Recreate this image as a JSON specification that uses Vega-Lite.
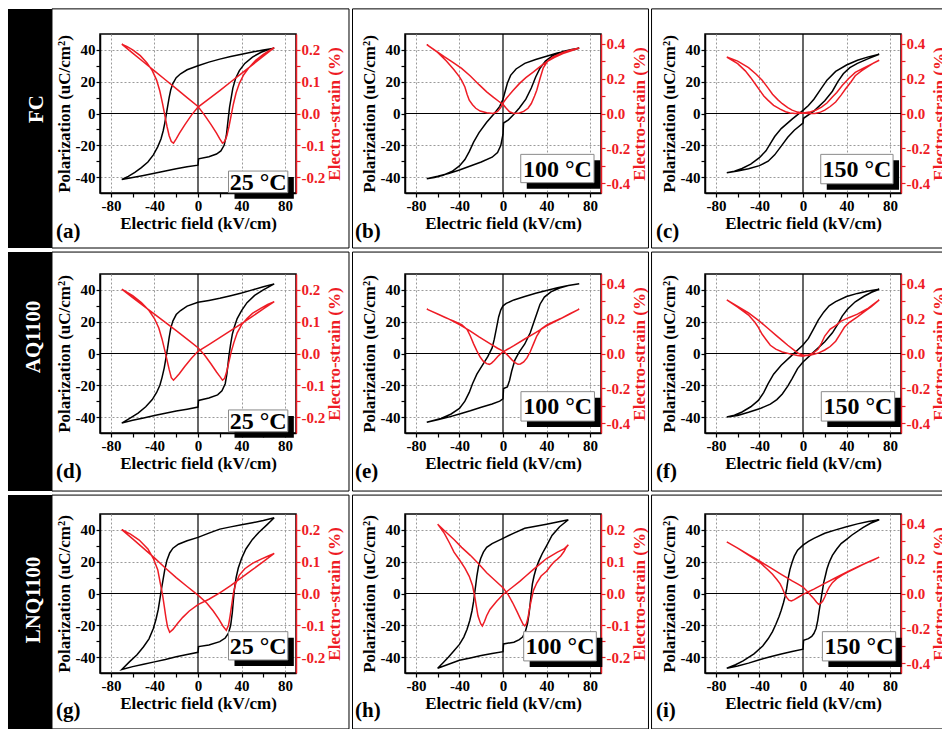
{
 "$schema": "https://vega.github.io/schema/vega-lite/v6.json",
 "padding": {"left": 7, "top": 7, "right": 0, "bottom": 0},
 "background": "white",
 "datasets": {
  "pa": [{"E":70,"P":41},{"E":60,"P":40},{"E":50,"P":38.7},{"E":40,"P":37.3},{"E":30,"P":35.8},{"E":20,"P":34.2},{"E":10,"P":32.3},{"E":0,"P":30},{"E":-10,"P":27.5},{"E":-16,"P":25},{"E":-20,"P":22.5},{"E":-23,"P":19},{"E":-25,"P":15},{"E":-26.5,"P":10},{"E":-28,"P":4},{"E":-29,"P":0},{"E":-30.5,"P":-6},{"E":-32,"P":-11},{"E":-34,"P":-16},{"E":-37,"P":-21},{"E":-41,"P":-26},{"E":-46,"P":-30.5},{"E":-52,"P":-34},{"E":-58,"P":-37},{"E":-64,"P":-39.5},{"E":-70,"P":-41.5},{"E":-60,"P":-40.3},{"E":-50,"P":-39},{"E":-40,"P":-37.6},{"E":-30,"P":-36.2},{"E":-20,"P":-34.8},{"E":-10,"P":-33.5},{"E":0,"P":-32.5},{"E":0.5,"P":-28.5},{"E":10,"P":-27.2},{"E":17,"P":-25.5},{"E":21,"P":-23.5},{"E":24,"P":-20},{"E":26,"P":-14},{"E":27,"P":-8},{"E":28,"P":-2},{"E":29,"P":4},{"E":30.5,"P":10},{"E":32,"P":16},{"E":34.5,"P":22},{"E":38,"P":27},{"E":43,"P":31.5},{"E":50,"P":35.5},{"E":58,"P":38.5},{"E":64,"P":40},{"E":70,"P":41}],
  "sa": [{"E":-70,"S":0.218},{"E":-60,"S":0.19},{"E":-50,"S":0.162},{"E":-40,"S":0.134},{"E":-30,"S":0.106},{"E":-20,"S":0.078},{"E":-10,"S":0.05},{"E":0,"S":0.022},{"E":6,"S":-0.005},{"E":12,"S":-0.035},{"E":17,"S":-0.062},{"E":20,"S":-0.08},{"E":22.5,"S":-0.093},{"E":24.5,"S":-0.088},{"E":26.5,"S":-0.07},{"E":28.5,"S":-0.04},{"E":30.5,"S":-0.005},{"E":32.5,"S":0.03},{"E":35,"S":0.065},{"E":38,"S":0.095},{"E":42,"S":0.122},{"E":47,"S":0.145},{"E":53,"S":0.167},{"E":60,"S":0.186},{"E":66,"S":0.199},{"E":70,"S":0.207},{"E":60,"S":0.18},{"E":50,"S":0.153},{"E":40,"S":0.126},{"E":30,"S":0.099},{"E":20,"S":0.072},{"E":10,"S":0.046},{"E":0,"S":0.02},{"E":-6,"S":-0.005},{"E":-12,"S":-0.035},{"E":-17,"S":-0.062},{"E":-20,"S":-0.08},{"E":-22.5,"S":-0.093},{"E":-24.5,"S":-0.088},{"E":-26.5,"S":-0.07},{"E":-28.5,"S":-0.04},{"E":-30.5,"S":-0.005},{"E":-32.5,"S":0.03},{"E":-35,"S":0.07},{"E":-38,"S":0.105},{"E":-42,"S":0.135},{"E":-47,"S":0.16},{"E":-53,"S":0.182},{"E":-60,"S":0.2},{"E":-65,"S":0.21},{"E":-70,"S":0.218}],
  "pb": [{"E":70,"P":41},{"E":60,"P":39.5},{"E":50,"P":38},{"E":40,"P":36},{"E":30,"P":34},{"E":20,"P":31.5},{"E":12,"P":28},{"E":7,"P":24},{"E":4,"P":19},{"E":2,"P":14},{"E":0,"P":9},{"E":-3,"P":4.5},{"E":-8,"P":0},{"E":-15,"P":-5.5},{"E":-22,"P":-12},{"E":-27,"P":-18},{"E":-31,"P":-24},{"E":-35,"P":-29},{"E":-40,"P":-33},{"E":-47,"P":-36.5},{"E":-55,"P":-38.8},{"E":-63,"P":-40.2},{"E":-70,"P":-41},{"E":-60,"P":-39.5},{"E":-50,"P":-37.8},{"E":-40,"P":-35.5},{"E":-30,"P":-33},{"E":-20,"P":-30.5},{"E":-10,"P":-27.5},{"E":-5,"P":-24.5},{"E":-2,"P":-20},{"E":0,"P":-13},{"E":0.5,"P":-6},{"E":5,"P":-4},{"E":10,"P":-0.5},{"E":15,"P":3.5},{"E":21,"P":9},{"E":26,"P":16},{"E":30,"P":23},{"E":34,"P":28.5},{"E":39,"P":33},{"E":46,"P":36.5},{"E":55,"P":39},{"E":63,"P":40.3},{"E":70,"P":41}],
  "sb": [{"E":-70,"S":0.394},{"E":-62,"S":0.36},{"E":-54,"S":0.325},{"E":-46,"S":0.293},{"E":-38,"S":0.258},{"E":-30,"S":0.215},{"E":-22,"S":0.165},{"E":-15,"S":0.124},{"E":-9,"S":0.094},{"E":-4,"S":0.07},{"E":0,"S":0.052},{"E":3,"S":0.03},{"E":6,"S":0.01},{"E":10,"S":0.0},{"E":15,"S":0.003},{"E":19,"S":0.012},{"E":23,"S":0.03},{"E":26,"S":0.057},{"E":29,"S":0.1},{"E":31,"S":0.133},{"E":34,"S":0.2},{"E":37,"S":0.262},{"E":41,"S":0.3},{"E":46,"S":0.324},{"E":55,"S":0.35},{"E":62,"S":0.363},{"E":70,"S":0.375},{"E":62,"S":0.358},{"E":55,"S":0.343},{"E":47,"S":0.32},{"E":40,"S":0.295},{"E":34,"S":0.268},{"E":28,"S":0.238},{"E":21,"S":0.205},{"E":15,"S":0.171},{"E":9,"S":0.13},{"E":3,"S":0.086},{"E":0,"S":0.06},{"E":-2,"S":0.035},{"E":-5,"S":0.012},{"E":-9,"S":0.0},{"E":-15,"S":0.004},{"E":-21,"S":0.014},{"E":-25,"S":0.03},{"E":-28,"S":0.05},{"E":-31,"S":0.076},{"E":-33,"S":0.11},{"E":-35,"S":0.152},{"E":-38,"S":0.19},{"E":-40,"S":0.21},{"E":-45,"S":0.25},{"E":-52,"S":0.3},{"E":-60,"S":0.35},{"E":-70,"S":0.394}],
  "pc": [{"E":70,"P":37.3},{"E":60,"P":35.6},{"E":50,"P":33.5},{"E":40,"P":30.5},{"E":30,"P":26.5},{"E":22,"P":21},{"E":16,"P":15},{"E":10,"P":9},{"E":5,"P":5},{"E":0,"P":2},{"E":-10,"P":-3.5},{"E":-20,"P":-9.5},{"E":-26,"P":-14.5},{"E":-30,"P":-19},{"E":-34,"P":-23.5},{"E":-40,"P":-27.8},{"E":-48,"P":-31.8},{"E":-56,"P":-34.6},{"E":-63,"P":-36.3},{"E":-70,"P":-37.3},{"E":-60,"P":-36.2},{"E":-50,"P":-34.8},{"E":-40,"P":-32.8},{"E":-32,"P":-30},{"E":-26,"P":-26},{"E":-20,"P":-20.5},{"E":-14,"P":-15},{"E":-8,"P":-10.5},{"E":0,"P":-6},{"E":0.5,"P":-3},{"E":10,"P":1.5},{"E":20,"P":8},{"E":27,"P":14},{"E":32,"P":20},{"E":37,"P":25},{"E":43,"P":28.8},{"E":50,"P":31.5},{"E":60,"P":34.5},{"E":70,"P":37.3}],
  "sc": [{"E":-70,"S":0.323},{"E":-60,"S":0.3},{"E":-50,"S":0.262},{"E":-43,"S":0.225},{"E":-37.5,"S":0.19},{"E":-32,"S":0.145},{"E":-28,"S":0.11},{"E":-23,"S":0.078},{"E":-19,"S":0.056},{"E":-14,"S":0.034},{"E":-10,"S":0.019},{"E":-5,"S":0.008},{"E":0,"S":0.003},{"E":5,"S":0.0},{"E":11,"S":0.0},{"E":16,"S":0.008},{"E":20,"S":0.019},{"E":25,"S":0.04},{"E":30,"S":0.066},{"E":35,"S":0.105},{"E":39,"S":0.14},{"E":44,"S":0.18},{"E":48,"S":0.216},{"E":54,"S":0.245},{"E":60,"S":0.27},{"E":65,"S":0.29},{"E":70,"S":0.305},{"E":62,"S":0.28},{"E":55,"S":0.258},{"E":48,"S":0.235},{"E":42,"S":0.2},{"E":36,"S":0.16},{"E":31,"S":0.12},{"E":27,"S":0.094},{"E":22,"S":0.06},{"E":17,"S":0.037},{"E":12,"S":0.02},{"E":6,"S":0.008},{"E":0,"S":0.003},{"E":-7,"S":0.0},{"E":-12,"S":0.003},{"E":-16,"S":0.01},{"E":-21,"S":0.025},{"E":-27,"S":0.047},{"E":-32,"S":0.075},{"E":-36,"S":0.1},{"E":-40,"S":0.135},{"E":-44,"S":0.17},{"E":-48,"S":0.205},{"E":-53,"S":0.244},{"E":-60,"S":0.285},{"E":-70,"S":0.323}],
  "pd": [{"E":70,"P":43.8},{"E":60,"P":42},{"E":50,"P":40},{"E":40,"P":38},{"E":30,"P":36.3},{"E":20,"P":34.7},{"E":10,"P":33.4},{"E":0,"P":32.2},{"E":-10,"P":29.8},{"E":-16,"P":27},{"E":-20,"P":24.5},{"E":-23,"P":20.5},{"E":-25,"P":16},{"E":-26.5,"P":10},{"E":-28,"P":3},{"E":-29.5,"P":-3},{"E":-31,"P":-9},{"E":-33,"P":-15},{"E":-35,"P":-20},{"E":-38,"P":-24.5},{"E":-42,"P":-29},{"E":-48,"P":-33.5},{"E":-55,"P":-37.5},{"E":-62,"P":-40.5},{"E":-70,"P":-43.8},{"E":-60,"P":-42},{"E":-50,"P":-40.5},{"E":-40,"P":-39},{"E":-30,"P":-37.6},{"E":-20,"P":-36.2},{"E":-10,"P":-35},{"E":0,"P":-33.7},{"E":0.5,"P":-29.5},{"E":10,"P":-28},{"E":18,"P":-26},{"E":22,"P":-23.5},{"E":25,"P":-19},{"E":26.5,"P":-13},{"E":27.5,"P":-7},{"E":28.5,"P":-1},{"E":30,"P":6},{"E":31.5,"P":12},{"E":33.5,"P":17},{"E":36,"P":22},{"E":40,"P":27},{"E":45,"P":32},{"E":52,"P":36.5},{"E":60,"P":40},{"E":70,"P":43.8}],
  "sd": [{"E":-70,"S":0.202},{"E":-60,"S":0.176},{"E":-50,"S":0.15},{"E":-40,"S":0.124},{"E":-30,"S":0.098},{"E":-20,"S":0.072},{"E":-10,"S":0.045},{"E":0,"S":0.018},{"E":6,"S":-0.005},{"E":12,"S":-0.033},{"E":17,"S":-0.058},{"E":20,"S":-0.072},{"E":22.5,"S":-0.084},{"E":24.5,"S":-0.078},{"E":26.5,"S":-0.055},{"E":28.5,"S":-0.025},{"E":30.5,"S":0.005},{"E":33,"S":0.035},{"E":36,"S":0.065},{"E":40,"S":0.09},{"E":45,"S":0.11},{"E":50,"S":0.126},{"E":58,"S":0.143},{"E":64,"S":0.154},{"E":70,"S":0.163},{"E":60,"S":0.14},{"E":50,"S":0.117},{"E":40,"S":0.094},{"E":30,"S":0.072},{"E":20,"S":0.05},{"E":10,"S":0.028},{"E":0,"S":0.007},{"E":-6,"S":-0.015},{"E":-12,"S":-0.04},{"E":-17,"S":-0.063},{"E":-20,"S":-0.075},{"E":-22.5,"S":-0.084},{"E":-24.5,"S":-0.076},{"E":-26.5,"S":-0.05},{"E":-28.5,"S":-0.02},{"E":-30.5,"S":0.01},{"E":-33,"S":0.045},{"E":-36,"S":0.08},{"E":-40,"S":0.11},{"E":-45,"S":0.135},{"E":-52,"S":0.16},{"E":-60,"S":0.182},{"E":-70,"S":0.202}],
  "pe": [{"E":70,"P":43.8},{"E":60,"P":42.7},{"E":50,"P":41.4},{"E":40,"P":39.6},{"E":30,"P":37.9},{"E":20,"P":35.8},{"E":10,"P":33.7},{"E":3,"P":31.5},{"E":0,"P":30},{"E":-2,"P":27.5},{"E":-4,"P":23},{"E":-6,"P":16},{"E":-8,"P":9},{"E":-10,"P":3.5},{"E":-14,"P":-2},{"E":-19,"P":-7.5},{"E":-24,"P":-13},{"E":-28,"P":-19},{"E":-31,"P":-24.5},{"E":-35,"P":-30},{"E":-40,"P":-34.5},{"E":-48,"P":-38.2},{"E":-57,"P":-40.8},{"E":-70,"P":-43.2},{"E":-60,"P":-41.7},{"E":-50,"P":-40},{"E":-40,"P":-38},{"E":-30,"P":-36},{"E":-20,"P":-33.8},{"E":-10,"P":-31.8},{"E":-3,"P":-30},{"E":0,"P":-28.5},{"E":0.5,"P":-22},{"E":4,"P":-21},{"E":6,"P":-17},{"E":8,"P":-11},{"E":11,"P":-4},{"E":15,"P":1},{"E":20,"P":6},{"E":25,"P":13},{"E":28,"P":19},{"E":31,"P":25},{"E":34,"P":31},{"E":38,"P":35.5},{"E":44,"P":38.8},{"E":52,"P":41.2},{"E":60,"P":42.7},{"E":70,"P":43.8}],
  "se": [{"E":-70,"S":0.254},{"E":-60,"S":0.227},{"E":-50,"S":0.198},{"E":-40,"S":0.165},{"E":-31,"S":0.132},{"E":-22,"S":0.095},{"E":-12,"S":0.056},{"E":-5,"S":0.03},{"E":0,"S":0.014},{"E":4,"S":-0.008},{"E":8,"S":-0.035},{"E":11,"S":-0.052},{"E":13.8,"S":-0.062},{"E":16,"S":-0.06},{"E":19,"S":-0.048},{"E":22,"S":-0.025},{"E":25,"S":0.01},{"E":28,"S":0.055},{"E":31,"S":0.1},{"E":35,"S":0.14},{"E":40,"S":0.162},{"E":46,"S":0.18},{"E":53,"S":0.2},{"E":61,"S":0.227},{"E":70,"S":0.254},{"E":60,"S":0.222},{"E":50,"S":0.19},{"E":40,"S":0.158},{"E":30,"S":0.12},{"E":20,"S":0.083},{"E":10,"S":0.045},{"E":3,"S":0.02},{"E":0,"S":0.01},{"E":-4,"S":-0.012},{"E":-8,"S":-0.04},{"E":-10.5,"S":-0.055},{"E":-12.5,"S":-0.062},{"E":-15,"S":-0.058},{"E":-18,"S":-0.045},{"E":-21,"S":-0.02},{"E":-24,"S":0.015},{"E":-27,"S":0.055},{"E":-30,"S":0.1},{"E":-33,"S":0.138},{"E":-38,"S":0.165},{"E":-45,"S":0.185},{"E":-53,"S":0.205},{"E":-61,"S":0.228},{"E":-70,"S":0.254}],
  "pf": [{"E":70,"P":40.4},{"E":60,"P":39.3},{"E":50,"P":37.8},{"E":40,"P":35.8},{"E":30,"P":32.6},{"E":24,"P":30},{"E":19,"P":26},{"E":14,"P":21},{"E":10,"P":15.8},{"E":5,"P":9.5},{"E":0,"P":5.3},{"E":-10,"P":-1},{"E":-20,"P":-7.4},{"E":-27,"P":-13},{"E":-32,"P":-19},{"E":-36,"P":-24.5},{"E":-41,"P":-29.5},{"E":-48,"P":-33.5},{"E":-56,"P":-36.8},{"E":-63,"P":-38.8},{"E":-70,"P":-40},{"E":-60,"P":-39},{"E":-50,"P":-37},{"E":-40,"P":-34.8},{"E":-30,"P":-31.8},{"E":-24,"P":-29},{"E":-19,"P":-25.5},{"E":-14,"P":-20.5},{"E":-10,"P":-15.8},{"E":-5,"P":-9.5},{"E":0,"P":-5.3},{"E":10,"P":1},{"E":20,"P":7.4},{"E":27,"P":13},{"E":32,"P":18.5},{"E":36,"P":23.5},{"E":41,"P":28},{"E":48,"P":32.5},{"E":56,"P":36},{"E":63,"P":38.5},{"E":70,"P":40.4}],
  "sf": [{"E":-70,"S":0.307},{"E":-60,"S":0.27},{"E":-50,"S":0.233},{"E":-40,"S":0.185},{"E":-31.5,"S":0.14},{"E":-25,"S":0.105},{"E":-19,"S":0.074},{"E":-14,"S":0.047},{"E":-10,"S":0.028},{"E":-4,"S":0.0},{"E":0,"S":-0.008},{"E":5,"S":-0.012},{"E":10,"S":-0.005},{"E":15,"S":0.005},{"E":20,"S":0.02},{"E":25,"S":0.04},{"E":30,"S":0.07},{"E":34,"S":0.11},{"E":38,"S":0.15},{"E":42,"S":0.175},{"E":50,"S":0.21},{"E":57,"S":0.242},{"E":63,"S":0.27},{"E":70,"S":0.307},{"E":60,"S":0.26},{"E":50,"S":0.225},{"E":42,"S":0.205},{"E":35,"S":0.185},{"E":30,"S":0.16},{"E":25,"S":0.14},{"E":20,"S":0.1},{"E":17,"S":0.06},{"E":14,"S":0.025},{"E":10,"S":0.005},{"E":5,"S":-0.008},{"E":0,"S":-0.015},{"E":-5,"S":-0.012},{"E":-10,"S":-0.005},{"E":-19,"S":0.009},{"E":-25,"S":0.025},{"E":-30,"S":0.047},{"E":-34,"S":0.08},{"E":-37.5,"S":0.11},{"E":-41,"S":0.15},{"E":-44,"S":0.177},{"E":-50,"S":0.22},{"E":-60,"S":0.265},{"E":-70,"S":0.307}],
  "pg": [{"E":70,"P":47.6},{"E":60,"P":45.9},{"E":50,"P":44.5},{"E":40,"P":43.2},{"E":30,"P":41.9},{"E":20,"P":40.5},{"E":10,"P":38},{"E":0,"P":35.3},{"E":-10,"P":33.2},{"E":-18,"P":31},{"E":-23,"P":28.5},{"E":-26,"P":25.5},{"E":-28.5,"P":21},{"E":-30.5,"P":15},{"E":-32,"P":9},{"E":-33.5,"P":3},{"E":-35,"P":-3.5},{"E":-36.5,"P":-10},{"E":-38.5,"P":-16},{"E":-41,"P":-22},{"E":-45,"P":-28.5},{"E":-50,"P":-33.5},{"E":-56,"P":-38.5},{"E":-63,"P":-43},{"E":-70,"P":-47.8},{"E":-60,"P":-46},{"E":-50,"P":-44.5},{"E":-40,"P":-43},{"E":-30,"P":-41.5},{"E":-20,"P":-39.8},{"E":-10,"P":-38.4},{"E":0,"P":-37},{"E":0.5,"P":-33.4},{"E":10,"P":-32.4},{"E":20,"P":-30.3},{"E":25,"P":-28},{"E":28,"P":-25},{"E":30,"P":-20},{"E":31.5,"P":-12},{"E":32.5,"P":-4},{"E":33.5,"P":3},{"E":35,"P":10},{"E":37,"P":16},{"E":40,"P":22},{"E":44,"P":28},{"E":50,"P":34},{"E":56,"P":38.5},{"E":63,"P":43},{"E":70,"P":47.6}],
  "sg": [{"E":-70,"S":0.201},{"E":-60,"S":0.172},{"E":-50,"S":0.142},{"E":-40,"S":0.112},{"E":-30,"S":0.08},{"E":-20,"S":0.05},{"E":-10,"S":0.022},{"E":0,"S":-0.005},{"E":8,"S":-0.03},{"E":14,"S":-0.055},{"E":19,"S":-0.08},{"E":23,"S":-0.103},{"E":26,"S":-0.116},{"E":28,"S":-0.1},{"E":29.5,"S":-0.07},{"E":31,"S":-0.035},{"E":32.5,"S":0.0},{"E":34.5,"S":0.03},{"E":38,"S":0.058},{"E":43,"S":0.078},{"E":50,"S":0.095},{"E":58,"S":0.108},{"E":64,"S":0.117},{"E":70,"S":0.126},{"E":60,"S":0.1},{"E":50,"S":0.075},{"E":40,"S":0.05},{"E":30,"S":0.025},{"E":20,"S":0.002},{"E":10,"S":-0.018},{"E":0,"S":-0.035},{"E":-8,"S":-0.055},{"E":-14,"S":-0.075},{"E":-19,"S":-0.095},{"E":-23,"S":-0.113},{"E":-26,"S":-0.122},{"E":-28,"S":-0.105},{"E":-29.5,"S":-0.075},{"E":-31,"S":-0.04},{"E":-32.5,"S":-0.005},{"E":-34.5,"S":0.03},{"E":-37,"S":0.075},{"E":-41,"S":0.11},{"E":-46,"S":0.14},{"E":-54,"S":0.168},{"E":-62,"S":0.187},{"E":-70,"S":0.201}],
  "ph": [{"E":60,"P":46.4},{"E":50,"P":45},{"E":40,"P":43.6},{"E":30,"P":42.3},{"E":20,"P":41},{"E":10,"P":38},{"E":0,"P":34.7},{"E":-10,"P":31.4},{"E":-15,"P":29},{"E":-18,"P":26},{"E":-20.5,"P":22},{"E":-22.5,"P":17},{"E":-24,"P":11},{"E":-25,"P":5.5},{"E":-26,"P":0.4},{"E":-27,"P":-5},{"E":-28.5,"P":-11},{"E":-30.5,"P":-17},{"E":-33,"P":-22.5},{"E":-36,"P":-27.4},{"E":-40,"P":-32},{"E":-45,"P":-36},{"E":-50,"P":-40},{"E":-55,"P":-43.5},{"E":-60,"P":-47},{"E":-50,"P":-44.5},{"E":-40,"P":-42},{"E":-30,"P":-40.5},{"E":-20,"P":-39},{"E":-10,"P":-37.8},{"E":0,"P":-36.6},{"E":0.5,"P":-31.7},{"E":10,"P":-30.6},{"E":15,"P":-29},{"E":18,"P":-27.4},{"E":20.5,"P":-24},{"E":22.5,"P":-19},{"E":24,"P":-12.4},{"E":25,"P":-6},{"E":26,"P":0.4},{"E":27,"P":6},{"E":28.5,"P":11},{"E":30.5,"P":16},{"E":33,"P":20.5},{"E":36,"P":25},{"E":40,"P":30},{"E":45,"P":36.5},{"E":52,"P":42},{"E":60,"P":46.4}],
  "sh": [{"E":-60,"S":0.218},{"E":-52,"S":0.192},{"E":-45,"S":0.17},{"E":-38,"S":0.145},{"E":-30,"S":0.12},{"E":-22,"S":0.092},{"E":-15,"S":0.065},{"E":-7,"S":0.04},{"E":0,"S":0.018},{"E":5,"S":-0.005},{"E":9,"S":-0.03},{"E":13,"S":-0.058},{"E":16,"S":-0.08},{"E":18.5,"S":-0.097},{"E":20,"S":-0.102},{"E":21.5,"S":-0.095},{"E":23,"S":-0.075},{"E":24.5,"S":-0.045},{"E":26,"S":-0.02},{"E":28,"S":0.01},{"E":31,"S":0.033},{"E":35,"S":0.055},{"E":40,"S":0.07},{"E":44,"S":0.088},{"E":47,"S":0.1},{"E":50,"S":0.108},{"E":53,"S":0.118},{"E":56,"S":0.132},{"E":58,"S":0.145},{"E":60,"S":0.153},{"E":56,"S":0.14},{"E":50,"S":0.13},{"E":45,"S":0.12},{"E":40,"S":0.11},{"E":33,"S":0.09},{"E":27.7,"S":0.075},{"E":21,"S":0.055},{"E":15.4,"S":0.038},{"E":8,"S":0.018},{"E":0,"S":-0.003},{"E":-6,"S":-0.025},{"E":-12,"S":-0.05},{"E":-15,"S":-0.07},{"E":-17,"S":-0.088},{"E":-19,"S":-0.102},{"E":-20.5,"S":-0.095},{"E":-22,"S":-0.08},{"E":-23,"S":-0.07},{"E":-24.5,"S":-0.04},{"E":-26,"S":-0.008},{"E":-28,"S":0.025},{"E":-31,"S":0.054},{"E":-35,"S":0.08},{"E":-40,"S":0.106},{"E":-45,"S":0.13},{"E":-49,"S":0.158},{"E":-54,"S":0.19},{"E":-60,"S":0.218}],
  "pi": [{"E":70,"P":46.4},{"E":60,"P":45.3},{"E":50,"P":43.8},{"E":40,"P":42},{"E":30,"P":40},{"E":20,"P":37.9},{"E":10,"P":34.7},{"E":5,"P":32.8},{"E":0,"P":30.4},{"E":-5,"P":27.2},{"E":-8,"P":23.5},{"E":-10,"P":19.7},{"E":-12,"P":15},{"E":-13.5,"P":10},{"E":-15,"P":3},{"E":-16.5,"P":-2},{"E":-18,"P":-6},{"E":-20,"P":-10.5},{"E":-22,"P":-14.5},{"E":-25,"P":-19.5},{"E":-28,"P":-24},{"E":-32,"P":-28.5},{"E":-37,"P":-33},{"E":-45,"P":-38},{"E":-55,"P":-42.4},{"E":-62,"P":-44.8},{"E":-70,"P":-47},{"E":-60,"P":-45.6},{"E":-50,"P":-43.8},{"E":-40,"P":-41.7},{"E":-30,"P":-39.8},{"E":-20,"P":-38},{"E":-10,"P":-36.5},{"E":0,"P":-35},{"E":0.5,"P":-29.5},{"E":5,"P":-28.4},{"E":8,"P":-27},{"E":10,"P":-25.2},{"E":12,"P":-22},{"E":13.5,"P":-17},{"E":15,"P":-10.3},{"E":16,"P":-6},{"E":17,"P":-1.7},{"E":18,"P":2.5},{"E":19,"P":6.8},{"E":20.5,"P":11},{"E":22,"P":15.4},{"E":24,"P":19.5},{"E":27,"P":24},{"E":31,"P":28},{"E":35,"P":31.4},{"E":40,"P":34},{"E":45,"P":36.8},{"E":55,"P":41.5},{"E":62,"P":44.2},{"E":70,"P":46.4}],
  "si": [{"E":-70,"S":0.296},{"E":-60,"S":0.26},{"E":-50,"S":0.222},{"E":-40,"S":0.186},{"E":-30,"S":0.148},{"E":-20,"S":0.11},{"E":-10,"S":0.072},{"E":-5,"S":0.055},{"E":0,"S":0.037},{"E":4,"S":0.012},{"E":7,"S":-0.01},{"E":10,"S":-0.03},{"E":12.5,"S":-0.05},{"E":14.4,"S":-0.062},{"E":16,"S":-0.058},{"E":18,"S":-0.045},{"E":20,"S":-0.02},{"E":22,"S":0.01},{"E":24,"S":0.035},{"E":27,"S":0.062},{"E":31,"S":0.085},{"E":36,"S":0.105},{"E":42,"S":0.125},{"E":50,"S":0.15},{"E":58,"S":0.175},{"E":64,"S":0.19},{"E":70,"S":0.208},{"E":60,"S":0.18},{"E":50,"S":0.152},{"E":40,"S":0.122},{"E":30,"S":0.09},{"E":20,"S":0.058},{"E":10,"S":0.025},{"E":5,"S":0.01},{"E":0,"S":-0.005},{"E":-4,"S":-0.02},{"E":-8,"S":-0.035},{"E":-10.7,"S":-0.043},{"E":-13,"S":-0.038},{"E":-15,"S":-0.022},{"E":-17,"S":0.0},{"E":-19,"S":0.03},{"E":-21,"S":0.055},{"E":-24,"S":0.08},{"E":-28,"S":0.11},{"E":-33,"S":0.14},{"E":-40,"S":0.18},{"E":-50,"S":0.22},{"E":-60,"S":0.26},{"E":-70,"S":0.296}]
 },
 "concat": [
  {"width": 196, "height": 159, "title": {"text": "(a)", "dx": -44, "offset": -28},
   "layer": [
    {"data": {"values": [{}]}, "mark": {"type": "rect", "filled": false, "color": "black", "strokeWidth": 1}, "encoding": {"x": {"datum": -134.1, "type": "quantitative", "scale": {"domain": [-90, 90], "nice": false, "zero": false}, "axis": null}, "x2": {"datum": 138.67}, "y": {"datum": 65.8, "type": "quantitative", "scale": {"domain": [-50, 50], "nice": false, "zero": false}, "axis": null}, "y2": {"datum": -84.6}}},
    {"data": {"values": [{}]}, "mark": {"type": "rect", "color": "black"}, "encoding": {"x": {"datum": -174.5, "type": "quantitative", "scale": {"domain": [-90, 90], "nice": false, "zero": false}, "axis": null}, "x2": {"datum": -134.1}, "y": {"datum": 65.8, "type": "quantitative", "scale": {"domain": [-50, 50], "nice": false, "zero": false}, "axis": null}, "y2": {"datum": -84.6}}},
    {"data": {"values": [{"name": "FC"}]}, "mark": {"type": "text", "angle": 270, "color": "white", "fontSize": 21, "fontWeight": "bold", "font": "Liberation Serif", "align": "center", "baseline": "middle"}, "encoding": {"text": {"field": "name"}, "x": {"datum": -147.9, "type": "quantitative", "scale": {"domain": [-90, 90], "nice": false, "zero": false}, "axis": null}, "y": {"datum": 2.8, "type": "quantitative", "scale": {"domain": [-50, 50], "nice": false, "zero": false}, "axis": null}}},
    {"data": {"values": [{}]}, "mark": {"type": "rule", "color": "black", "strokeWidth": 1.2}, "encoding": {"x": {"datum": 0, "type": "quantitative", "scale": {"domain": [-90, 90], "nice": false, "zero": false}, "axis": null}}},
    {"data": {"values": [{}]}, "mark": {"type": "rule", "color": "black", "strokeWidth": 1.2}, "encoding": {"y": {"datum": 0, "type": "quantitative", "scale": {"domain": [-50, 50], "nice": false, "zero": false}, "axis": null}}},
    {"data": {"name": "pa"}, "mark": {"type": "line", "color": "black"}, "encoding": {"x": {"field": "E", "type": "quantitative", "scale": {"domain": [-90, 90], "nice": false, "zero": false}, "axis": {"orient": "bottom", "title": "Electric field (kV/cm)", "values": [-80, -60, -40, -20, 0, 20, 40, 60, 80], "labelExpr": "datum.value % 40 == 0 ? '' + datum.value : ''", "grid": true, "gridOpacity": {"condition": {"test": "datum.value % 40 != 0 || datum.value == 0", "value": 0}, "value": 1}}}, "y": {"field": "P", "type": "quantitative", "scale": {"domain": [-50, 50], "nice": false, "zero": false}, "axis": {"orient": "left", "title": "Polarization (uC/cm²)", "values": [-40, -30, -20, -10, 0, 10, 20, 30, 40], "labelExpr": "datum.value % 20 == 0 ? '' + datum.value : ''", "grid": true, "gridOpacity": {"condition": {"test": "datum.value % 20 != 0 || datum.value == 0", "value": 0}, "value": 1}}}, "order": {"value": null}}},
    {"data": {"name": "sa"}, "mark": {"type": "line", "color": "#ee1c25"}, "encoding": {"x": {"field": "E", "type": "quantitative", "scale": {"domain": [-90, 90], "nice": false, "zero": false}, "axis": null}, "y": {"field": "S", "type": "quantitative", "scale": {"domain": [-0.25, 0.25], "nice": false, "zero": false}, "axis": {"orient": "right", "title": "Electro-strain (%)", "values": [-0.2, -0.15, -0.1, -0.05, 0, 0.05, 0.1, 0.15, 0.2], "labelExpr": "abs(round(datum.value*100)) % 10 == 0 ? (datum.value < -0.001 ? '-' : '') + format(abs(datum.value), '.1f') : ''"}}, "order": {"value": null}}},
    {"data": {"values": [{}]}, "mark": {"type": "rect", "color": "black", "xOffset": 6, "x2Offset": 6, "yOffset": 6, "y2Offset": 6}, "encoding": {"x": {"datum": 28, "type": "quantitative", "scale": {"domain": [-90, 90], "nice": false, "zero": false}, "axis": null}, "x2": {"datum": 82.5}, "y": {"datum": -36.2, "type": "quantitative", "scale": {"domain": [-50, 50], "nice": false, "zero": false}, "axis": null}, "y2": {"datum": -49.8}}},
    {"data": {"values": [{}]}, "mark": {"type": "rect", "fill": "white", "stroke": "#8a8a8a", "strokeWidth": 1}, "encoding": {"x": {"datum": 28, "type": "quantitative", "scale": {"domain": [-90, 90], "nice": false, "zero": false}, "axis": null}, "x2": {"datum": 82.5}, "y": {"datum": -36.2, "type": "quantitative", "scale": {"domain": [-50, 50], "nice": false, "zero": false}, "axis": null}, "y2": {"datum": -49.8}}},
    {"data": {"values": [{"T": "25 °C"}]}, "mark": {"type": "text", "font": "Liberation Serif", "fontWeight": "bold", "fontSize": 24, "color": "black", "align": "center", "baseline": "middle", "dy": 1}, "encoding": {"text": {"field": "T"}, "x": {"datum": 55.25, "type": "quantitative", "scale": {"domain": [-90, 90], "nice": false, "zero": false}, "axis": null}, "y": {"datum": -43, "type": "quantitative", "scale": {"domain": [-50, 50], "nice": false, "zero": false}, "axis": null}}}
   ],
   "resolve": {"scale": {"y": "independent"}, "axis": {"x": "independent", "y": "independent"}}
  },
  {"width": 196, "height": 159, "title": {"text": "(b)", "dx": -50, "offset": -28},
   "layer": [
    {"data": {"values": [{}]}, "mark": {"type": "rect", "filled": false, "color": "black", "strokeWidth": 1}, "encoding": {"x": {"datum": -138.2, "type": "quantitative", "scale": {"domain": [-90, 90], "nice": false, "zero": false}, "axis": null}, "x2": {"datum": 133.6}, "y": {"datum": 65.8, "type": "quantitative", "scale": {"domain": [-50, 50], "nice": false, "zero": false}, "axis": null}, "y2": {"datum": -84.6}}},
    {"data": {"values": [{}]}, "mark": {"type": "rule", "color": "black", "strokeWidth": 1.2}, "encoding": {"x": {"datum": 0, "type": "quantitative", "scale": {"domain": [-90, 90], "nice": false, "zero": false}, "axis": null}}},
    {"data": {"values": [{}]}, "mark": {"type": "rule", "color": "black", "strokeWidth": 1.2}, "encoding": {"y": {"datum": 0, "type": "quantitative", "scale": {"domain": [-50, 50], "nice": false, "zero": false}, "axis": null}}},
    {"data": {"name": "pb"}, "mark": {"type": "line", "color": "black"}, "encoding": {"x": {"field": "E", "type": "quantitative", "scale": {"domain": [-90, 90], "nice": false, "zero": false}, "axis": {"orient": "bottom", "title": "Electric field (kV/cm)", "values": [-80, -60, -40, -20, 0, 20, 40, 60, 80], "labelExpr": "datum.value % 40 == 0 ? '' + datum.value : ''", "grid": true, "gridOpacity": {"condition": {"test": "datum.value % 40 != 0 || datum.value == 0", "value": 0}, "value": 1}}}, "y": {"field": "P", "type": "quantitative", "scale": {"domain": [-50, 50], "nice": false, "zero": false}, "axis": {"orient": "left", "title": "Polarization (uC/cm²)", "values": [-40, -30, -20, -10, 0, 10, 20, 30, 40], "labelExpr": "datum.value % 20 == 0 ? '' + datum.value : ''", "grid": true, "gridOpacity": {"condition": {"test": "datum.value % 20 != 0 || datum.value == 0", "value": 0}, "value": 1}}}, "order": {"value": null}}},
    {"data": {"name": "sb"}, "mark": {"type": "line", "color": "#ee1c25"}, "encoding": {"x": {"field": "E", "type": "quantitative", "scale": {"domain": [-90, 90], "nice": false, "zero": false}, "axis": null}, "y": {"field": "S", "type": "quantitative", "scale": {"domain": [-0.455, 0.455], "nice": false, "zero": false}, "axis": {"orient": "right", "title": "Electro-strain (%)", "values": [-0.4, -0.3, -0.2, -0.1, 0, 0.1, 0.2, 0.3, 0.4], "labelExpr": "abs(round(datum.value*10)) % 2 == 0 ? (datum.value < -0.001 ? '-' : '') + format(abs(datum.value), '.1f') : ''"}}, "order": {"value": null}}},
    {"data": {"values": [{}]}, "mark": {"type": "rect", "color": "black", "xOffset": 6, "x2Offset": 6, "yOffset": 6, "y2Offset": 6}, "encoding": {"x": {"datum": 16.3, "type": "quantitative", "scale": {"domain": [-90, 90], "nice": false, "zero": false}, "axis": null}, "x2": {"datum": 83.6}, "y": {"datum": -25.7, "type": "quantitative", "scale": {"domain": [-50, 50], "nice": false, "zero": false}, "axis": null}, "y2": {"datum": -43.5}}},
    {"data": {"values": [{}]}, "mark": {"type": "rect", "fill": "white", "stroke": "#8a8a8a", "strokeWidth": 1}, "encoding": {"x": {"datum": 16.3, "type": "quantitative", "scale": {"domain": [-90, 90], "nice": false, "zero": false}, "axis": null}, "x2": {"datum": 83.6}, "y": {"datum": -25.7, "type": "quantitative", "scale": {"domain": [-50, 50], "nice": false, "zero": false}, "axis": null}, "y2": {"datum": -43.5}}},
    {"data": {"values": [{"T": "100 °C"}]}, "mark": {"type": "text", "font": "Liberation Serif", "fontWeight": "bold", "fontSize": 24, "color": "black", "align": "center", "baseline": "middle", "dy": 1}, "encoding": {"text": {"field": "T"}, "x": {"datum": 49.95, "type": "quantitative", "scale": {"domain": [-90, 90], "nice": false, "zero": false}, "axis": null}, "y": {"datum": -34.6, "type": "quantitative", "scale": {"domain": [-50, 50], "nice": false, "zero": false}, "axis": null}}}
   ],
   "resolve": {"scale": {"y": "independent"}, "axis": {"x": "independent", "y": "independent"}}
  },
  {"width": 196, "height": 159, "title": {"text": "(c)", "dx": -49, "offset": -28},
   "layer": [
    {"data": {"values": [{}]}, "mark": {"type": "rect", "filled": false, "color": "black", "strokeWidth": 1}, "encoding": {"x": {"datum": -139.1, "type": "quantitative", "scale": {"domain": [-90, 90], "nice": false, "zero": false}, "axis": null}, "x2": {"datum": 140}, "y": {"datum": 65.8, "type": "quantitative", "scale": {"domain": [-50, 50], "nice": false, "zero": false}, "axis": null}, "y2": {"datum": -84.6}}},
    {"data": {"values": [{}]}, "mark": {"type": "rule", "color": "black", "strokeWidth": 1.2}, "encoding": {"x": {"datum": 0, "type": "quantitative", "scale": {"domain": [-90, 90], "nice": false, "zero": false}, "axis": null}}},
    {"data": {"values": [{}]}, "mark": {"type": "rule", "color": "black", "strokeWidth": 1.2}, "encoding": {"y": {"datum": 0, "type": "quantitative", "scale": {"domain": [-50, 50], "nice": false, "zero": false}, "axis": null}}},
    {"data": {"name": "pc"}, "mark": {"type": "line", "color": "black"}, "encoding": {"x": {"field": "E", "type": "quantitative", "scale": {"domain": [-90, 90], "nice": false, "zero": false}, "axis": {"orient": "bottom", "title": "Electric field (kV/cm)", "values": [-80, -60, -40, -20, 0, 20, 40, 60, 80], "labelExpr": "datum.value % 40 == 0 ? '' + datum.value : ''", "grid": true, "gridOpacity": {"condition": {"test": "datum.value % 40 != 0 || datum.value == 0", "value": 0}, "value": 1}}}, "y": {"field": "P", "type": "quantitative", "scale": {"domain": [-50, 50], "nice": false, "zero": false}, "axis": {"orient": "left", "title": "Polarization (uC/cm²)", "values": [-40, -30, -20, -10, 0, 10, 20, 30, 40], "labelExpr": "datum.value % 20 == 0 ? '' + datum.value : ''", "grid": true, "gridOpacity": {"condition": {"test": "datum.value % 20 != 0 || datum.value == 0", "value": 0}, "value": 1}}}, "order": {"value": null}}},
    {"data": {"name": "sc"}, "mark": {"type": "line", "color": "#ee1c25"}, "encoding": {"x": {"field": "E", "type": "quantitative", "scale": {"domain": [-90, 90], "nice": false, "zero": false}, "axis": null}, "y": {"field": "S", "type": "quantitative", "scale": {"domain": [-0.455, 0.455], "nice": false, "zero": false}, "axis": {"orient": "right", "title": "Electro-strain (%)", "values": [-0.4, -0.3, -0.2, -0.1, 0, 0.1, 0.2, 0.3, 0.4], "labelExpr": "abs(round(datum.value*10)) % 2 == 0 ? (datum.value < -0.001 ? '-' : '') + format(abs(datum.value), '.1f') : ''"}}, "order": {"value": null}}},
    {"data": {"values": [{}]}, "mark": {"type": "rect", "color": "black", "xOffset": 6, "x2Offset": 6, "yOffset": 6, "y2Offset": 6}, "encoding": {"x": {"datum": 16.3, "type": "quantitative", "scale": {"domain": [-90, 90], "nice": false, "zero": false}, "axis": null}, "x2": {"datum": 82.7}, "y": {"datum": -25.7, "type": "quantitative", "scale": {"domain": [-50, 50], "nice": false, "zero": false}, "axis": null}, "y2": {"datum": -44.2}}},
    {"data": {"values": [{}]}, "mark": {"type": "rect", "fill": "white", "stroke": "#8a8a8a", "strokeWidth": 1}, "encoding": {"x": {"datum": 16.3, "type": "quantitative", "scale": {"domain": [-90, 90], "nice": false, "zero": false}, "axis": null}, "x2": {"datum": 82.7}, "y": {"datum": -25.7, "type": "quantitative", "scale": {"domain": [-50, 50], "nice": false, "zero": false}, "axis": null}, "y2": {"datum": -44.2}}},
    {"data": {"values": [{"T": "150 °C"}]}, "mark": {"type": "text", "font": "Liberation Serif", "fontWeight": "bold", "fontSize": 24, "color": "black", "align": "center", "baseline": "middle", "dy": 1}, "encoding": {"text": {"field": "T"}, "x": {"datum": 49.5, "type": "quantitative", "scale": {"domain": [-90, 90], "nice": false, "zero": false}, "axis": null}, "y": {"datum": -34.95, "type": "quantitative", "scale": {"domain": [-50, 50], "nice": false, "zero": false}, "axis": null}}}
   ],
   "resolve": {"scale": {"y": "independent"}, "axis": {"x": "independent", "y": "independent"}}
  },
  {"width": 196, "height": 159, "title": {"text": "(d)", "dx": -44, "offset": -31},
   "layer": [
    {"data": {"values": [{}]}, "mark": {"type": "rect", "filled": false, "color": "black", "strokeWidth": 1}, "encoding": {"x": {"datum": -134.1, "type": "quantitative", "scale": {"domain": [-90, 90], "nice": false, "zero": false}, "axis": null}, "x2": {"datum": 138.67}, "y": {"datum": 63.8, "type": "quantitative", "scale": {"domain": [-50, 50], "nice": false, "zero": false}, "axis": null}, "y2": {"datum": -86.5}}},
    {"data": {"values": [{}]}, "mark": {"type": "rect", "color": "black"}, "encoding": {"x": {"datum": -174.5, "type": "quantitative", "scale": {"domain": [-90, 90], "nice": false, "zero": false}, "axis": null}, "x2": {"datum": -134.1}, "y": {"datum": 63.8, "type": "quantitative", "scale": {"domain": [-50, 50], "nice": false, "zero": false}, "axis": null}, "y2": {"datum": -86.5}}},
    {"data": {"values": [{"name": "AQ1100"}]}, "mark": {"type": "text", "angle": 270, "color": "white", "fontSize": 21, "fontWeight": "bold", "font": "Liberation Serif", "align": "center", "baseline": "middle"}, "encoding": {"text": {"field": "name"}, "x": {"datum": -151, "type": "quantitative", "scale": {"domain": [-90, 90], "nice": false, "zero": false}, "axis": null}, "y": {"datum": 10.4, "type": "quantitative", "scale": {"domain": [-50, 50], "nice": false, "zero": false}, "axis": null}}},
    {"data": {"values": [{}]}, "mark": {"type": "rule", "color": "black", "strokeWidth": 1.2}, "encoding": {"x": {"datum": 0, "type": "quantitative", "scale": {"domain": [-90, 90], "nice": false, "zero": false}, "axis": null}}},
    {"data": {"values": [{}]}, "mark": {"type": "rule", "color": "black", "strokeWidth": 1.2}, "encoding": {"y": {"datum": 0, "type": "quantitative", "scale": {"domain": [-50, 50], "nice": false, "zero": false}, "axis": null}}},
    {"data": {"name": "pd"}, "mark": {"type": "line", "color": "black"}, "encoding": {"x": {"field": "E", "type": "quantitative", "scale": {"domain": [-90, 90], "nice": false, "zero": false}, "axis": {"orient": "bottom", "title": "Electric field (kV/cm)", "values": [-80, -60, -40, -20, 0, 20, 40, 60, 80], "labelExpr": "datum.value % 40 == 0 ? '' + datum.value : ''", "grid": true, "gridOpacity": {"condition": {"test": "datum.value % 40 != 0 || datum.value == 0", "value": 0}, "value": 1}}}, "y": {"field": "P", "type": "quantitative", "scale": {"domain": [-50, 50], "nice": false, "zero": false}, "axis": {"orient": "left", "title": "Polarization (uC/cm²)", "values": [-40, -30, -20, -10, 0, 10, 20, 30, 40], "labelExpr": "datum.value % 20 == 0 ? '' + datum.value : ''", "grid": true, "gridOpacity": {"condition": {"test": "datum.value % 20 != 0 || datum.value == 0", "value": 0}, "value": 1}}}, "order": {"value": null}}},
    {"data": {"name": "sd"}, "mark": {"type": "line", "color": "#ee1c25"}, "encoding": {"x": {"field": "E", "type": "quantitative", "scale": {"domain": [-90, 90], "nice": false, "zero": false}, "axis": null}, "y": {"field": "S", "type": "quantitative", "scale": {"domain": [-0.25, 0.25], "nice": false, "zero": false}, "axis": {"orient": "right", "title": "Electro-strain (%)", "values": [-0.2, -0.15, -0.1, -0.05, 0, 0.05, 0.1, 0.15, 0.2], "labelExpr": "abs(round(datum.value*100)) % 10 == 0 ? (datum.value < -0.001 ? '-' : '') + format(abs(datum.value), '.1f') : ''"}}, "order": {"value": null}}},
    {"data": {"values": [{}]}, "mark": {"type": "rect", "color": "black", "xOffset": 6, "x2Offset": 6, "yOffset": 6, "y2Offset": 6}, "encoding": {"x": {"datum": 28, "type": "quantitative", "scale": {"domain": [-90, 90], "nice": false, "zero": false}, "axis": null}, "x2": {"datum": 82.5}, "y": {"datum": -35.5, "type": "quantitative", "scale": {"domain": [-50, 50], "nice": false, "zero": false}, "axis": null}, "y2": {"datum": -49.2}}},
    {"data": {"values": [{}]}, "mark": {"type": "rect", "fill": "white", "stroke": "#8a8a8a", "strokeWidth": 1}, "encoding": {"x": {"datum": 28, "type": "quantitative", "scale": {"domain": [-90, 90], "nice": false, "zero": false}, "axis": null}, "x2": {"datum": 82.5}, "y": {"datum": -35.5, "type": "quantitative", "scale": {"domain": [-50, 50], "nice": false, "zero": false}, "axis": null}, "y2": {"datum": -49.2}}},
    {"data": {"values": [{"T": "25 °C"}]}, "mark": {"type": "text", "font": "Liberation Serif", "fontWeight": "bold", "fontSize": 24, "color": "black", "align": "center", "baseline": "middle", "dy": 1}, "encoding": {"text": {"field": "T"}, "x": {"datum": 55.25, "type": "quantitative", "scale": {"domain": [-90, 90], "nice": false, "zero": false}, "axis": null}, "y": {"datum": -42.35, "type": "quantitative", "scale": {"domain": [-50, 50], "nice": false, "zero": false}, "axis": null}}}
   ],
   "resolve": {"scale": {"y": "independent"}, "axis": {"x": "independent", "y": "independent"}}
  },
  {"width": 196, "height": 159, "title": {"text": "(e)", "dx": -50, "offset": -31},
   "layer": [
    {"data": {"values": [{}]}, "mark": {"type": "rect", "filled": false, "color": "black", "strokeWidth": 1}, "encoding": {"x": {"datum": -138.2, "type": "quantitative", "scale": {"domain": [-90, 90], "nice": false, "zero": false}, "axis": null}, "x2": {"datum": 133.6}, "y": {"datum": 63.8, "type": "quantitative", "scale": {"domain": [-50, 50], "nice": false, "zero": false}, "axis": null}, "y2": {"datum": -86.5}}},
    {"data": {"values": [{}]}, "mark": {"type": "rule", "color": "black", "strokeWidth": 1.2}, "encoding": {"x": {"datum": 0, "type": "quantitative", "scale": {"domain": [-90, 90], "nice": false, "zero": false}, "axis": null}}},
    {"data": {"values": [{}]}, "mark": {"type": "rule", "color": "black", "strokeWidth": 1.2}, "encoding": {"y": {"datum": 0, "type": "quantitative", "scale": {"domain": [-50, 50], "nice": false, "zero": false}, "axis": null}}},
    {"data": {"name": "pe"}, "mark": {"type": "line", "color": "black"}, "encoding": {"x": {"field": "E", "type": "quantitative", "scale": {"domain": [-90, 90], "nice": false, "zero": false}, "axis": {"orient": "bottom", "title": "Electric field (kV/cm)", "values": [-80, -60, -40, -20, 0, 20, 40, 60, 80], "labelExpr": "datum.value % 40 == 0 ? '' + datum.value : ''", "grid": true, "gridOpacity": {"condition": {"test": "datum.value % 40 != 0 || datum.value == 0", "value": 0}, "value": 1}}}, "y": {"field": "P", "type": "quantitative", "scale": {"domain": [-50, 50], "nice": false, "zero": false}, "axis": {"orient": "left", "title": "Polarization (uC/cm²)", "values": [-40, -30, -20, -10, 0, 10, 20, 30, 40], "labelExpr": "datum.value % 20 == 0 ? '' + datum.value : ''", "grid": true, "gridOpacity": {"condition": {"test": "datum.value % 20 != 0 || datum.value == 0", "value": 0}, "value": 1}}}, "order": {"value": null}}},
    {"data": {"name": "se"}, "mark": {"type": "line", "color": "#ee1c25"}, "encoding": {"x": {"field": "E", "type": "quantitative", "scale": {"domain": [-90, 90], "nice": false, "zero": false}, "axis": null}, "y": {"field": "S", "type": "quantitative", "scale": {"domain": [-0.455, 0.455], "nice": false, "zero": false}, "axis": {"orient": "right", "title": "Electro-strain (%)", "values": [-0.4, -0.3, -0.2, -0.1, 0, 0.1, 0.2, 0.3, 0.4], "labelExpr": "abs(round(datum.value*10)) % 2 == 0 ? (datum.value < -0.001 ? '-' : '') + format(abs(datum.value), '.1f') : ''"}}, "order": {"value": null}}},
    {"data": {"values": [{}]}, "mark": {"type": "rect", "color": "black", "xOffset": 6, "x2Offset": 6, "yOffset": 6, "y2Offset": 6}, "encoding": {"x": {"datum": 16.5, "type": "quantitative", "scale": {"domain": [-90, 90], "nice": false, "zero": false}, "axis": null}, "x2": {"datum": 84}, "y": {"datum": -24, "type": "quantitative", "scale": {"domain": [-50, 50], "nice": false, "zero": false}, "axis": null}, "y2": {"datum": -42.5}}},
    {"data": {"values": [{}]}, "mark": {"type": "rect", "fill": "white", "stroke": "#8a8a8a", "strokeWidth": 1}, "encoding": {"x": {"datum": 16.5, "type": "quantitative", "scale": {"domain": [-90, 90], "nice": false, "zero": false}, "axis": null}, "x2": {"datum": 84}, "y": {"datum": -24, "type": "quantitative", "scale": {"domain": [-50, 50], "nice": false, "zero": false}, "axis": null}, "y2": {"datum": -42.5}}},
    {"data": {"values": [{"T": "100 °C"}]}, "mark": {"type": "text", "font": "Liberation Serif", "fontWeight": "bold", "fontSize": 24, "color": "black", "align": "center", "baseline": "middle", "dy": 1}, "encoding": {"text": {"field": "T"}, "x": {"datum": 50.25, "type": "quantitative", "scale": {"domain": [-90, 90], "nice": false, "zero": false}, "axis": null}, "y": {"datum": -33.25, "type": "quantitative", "scale": {"domain": [-50, 50], "nice": false, "zero": false}, "axis": null}}}
   ],
   "resolve": {"scale": {"y": "independent"}, "axis": {"x": "independent", "y": "independent"}}
  },
  {"width": 196, "height": 159, "title": {"text": "(f)", "dx": -49, "offset": -31},
   "layer": [
    {"data": {"values": [{}]}, "mark": {"type": "rect", "filled": false, "color": "black", "strokeWidth": 1}, "encoding": {"x": {"datum": -139.1, "type": "quantitative", "scale": {"domain": [-90, 90], "nice": false, "zero": false}, "axis": null}, "x2": {"datum": 140}, "y": {"datum": 63.8, "type": "quantitative", "scale": {"domain": [-50, 50], "nice": false, "zero": false}, "axis": null}, "y2": {"datum": -86.5}}},
    {"data": {"values": [{}]}, "mark": {"type": "rule", "color": "black", "strokeWidth": 1.2}, "encoding": {"x": {"datum": 0, "type": "quantitative", "scale": {"domain": [-90, 90], "nice": false, "zero": false}, "axis": null}}},
    {"data": {"values": [{}]}, "mark": {"type": "rule", "color": "black", "strokeWidth": 1.2}, "encoding": {"y": {"datum": 0, "type": "quantitative", "scale": {"domain": [-50, 50], "nice": false, "zero": false}, "axis": null}}},
    {"data": {"name": "pf"}, "mark": {"type": "line", "color": "black"}, "encoding": {"x": {"field": "E", "type": "quantitative", "scale": {"domain": [-90, 90], "nice": false, "zero": false}, "axis": {"orient": "bottom", "title": "Electric field (kV/cm)", "values": [-80, -60, -40, -20, 0, 20, 40, 60, 80], "labelExpr": "datum.value % 40 == 0 ? '' + datum.value : ''", "grid": true, "gridOpacity": {"condition": {"test": "datum.value % 40 != 0 || datum.value == 0", "value": 0}, "value": 1}}}, "y": {"field": "P", "type": "quantitative", "scale": {"domain": [-50, 50], "nice": false, "zero": false}, "axis": {"orient": "left", "title": "Polarization (uC/cm²)", "values": [-40, -30, -20, -10, 0, 10, 20, 30, 40], "labelExpr": "datum.value % 20 == 0 ? '' + datum.value : ''", "grid": true, "gridOpacity": {"condition": {"test": "datum.value % 20 != 0 || datum.value == 0", "value": 0}, "value": 1}}}, "order": {"value": null}}},
    {"data": {"name": "sf"}, "mark": {"type": "line", "color": "#ee1c25"}, "encoding": {"x": {"field": "E", "type": "quantitative", "scale": {"domain": [-90, 90], "nice": false, "zero": false}, "axis": null}, "y": {"field": "S", "type": "quantitative", "scale": {"domain": [-0.455, 0.455], "nice": false, "zero": false}, "axis": {"orient": "right", "title": "Electro-strain (%)", "values": [-0.4, -0.3, -0.2, -0.1, 0, 0.1, 0.2, 0.3, 0.4], "labelExpr": "abs(round(datum.value*10)) % 2 == 0 ? (datum.value < -0.001 ? '-' : '') + format(abs(datum.value), '.1f') : ''"}}, "order": {"value": null}}},
    {"data": {"values": [{}]}, "mark": {"type": "rect", "color": "black", "xOffset": 6, "x2Offset": 6, "yOffset": 6, "y2Offset": 6}, "encoding": {"x": {"datum": 16.8, "type": "quantitative", "scale": {"domain": [-90, 90], "nice": false, "zero": false}, "axis": null}, "x2": {"datum": 84.2}, "y": {"datum": -24, "type": "quantitative", "scale": {"domain": [-50, 50], "nice": false, "zero": false}, "axis": null}, "y2": {"datum": -42.5}}},
    {"data": {"values": [{}]}, "mark": {"type": "rect", "fill": "white", "stroke": "#8a8a8a", "strokeWidth": 1}, "encoding": {"x": {"datum": 16.8, "type": "quantitative", "scale": {"domain": [-90, 90], "nice": false, "zero": false}, "axis": null}, "x2": {"datum": 84.2}, "y": {"datum": -24, "type": "quantitative", "scale": {"domain": [-50, 50], "nice": false, "zero": false}, "axis": null}, "y2": {"datum": -42.5}}},
    {"data": {"values": [{"T": "150 °C"}]}, "mark": {"type": "text", "font": "Liberation Serif", "fontWeight": "bold", "fontSize": 24, "color": "black", "align": "center", "baseline": "middle", "dy": 1}, "encoding": {"text": {"field": "T"}, "x": {"datum": 50.5, "type": "quantitative", "scale": {"domain": [-90, 90], "nice": false, "zero": false}, "axis": null}, "y": {"datum": -33.25, "type": "quantitative", "scale": {"domain": [-50, 50], "nice": false, "zero": false}, "axis": null}}}
   ],
   "resolve": {"scale": {"y": "independent"}, "axis": {"x": "independent", "y": "independent"}}
  },
  {"width": 196, "height": 159, "title": {"text": "(g)", "dx": -44, "offset": -29},
   "layer": [
    {"data": {"values": [{}]}, "mark": {"type": "rect", "filled": false, "color": "black", "strokeWidth": 1}, "encoding": {"x": {"datum": -134.1, "type": "quantitative", "scale": {"domain": [-90, 90], "nice": false, "zero": false}, "axis": null}, "x2": {"datum": 138.67}, "y": {"datum": 61.9, "type": "quantitative", "scale": {"domain": [-50, 50], "nice": false, "zero": false}, "axis": null}, "y2": {"datum": -85.2}}},
    {"data": {"values": [{}]}, "mark": {"type": "rect", "color": "black"}, "encoding": {"x": {"datum": -174.5, "type": "quantitative", "scale": {"domain": [-90, 90], "nice": false, "zero": false}, "axis": null}, "x2": {"datum": -134.1}, "y": {"datum": 61.9, "type": "quantitative", "scale": {"domain": [-50, 50], "nice": false, "zero": false}, "axis": null}, "y2": {"datum": -85.2}}},
    {"data": {"values": [{"name": "LNQ1100"}]}, "mark": {"type": "text", "angle": 270, "color": "white", "fontSize": 21, "fontWeight": "bold", "font": "Liberation Serif", "align": "center", "baseline": "middle"}, "encoding": {"text": {"field": "name"}, "x": {"datum": -151, "type": "quantitative", "scale": {"domain": [-90, 90], "nice": false, "zero": false}, "axis": null}, "y": {"datum": -4.1, "type": "quantitative", "scale": {"domain": [-50, 50], "nice": false, "zero": false}, "axis": null}}},
    {"data": {"values": [{}]}, "mark": {"type": "rule", "color": "black", "strokeWidth": 1.2}, "encoding": {"x": {"datum": 0, "type": "quantitative", "scale": {"domain": [-90, 90], "nice": false, "zero": false}, "axis": null}}},
    {"data": {"values": [{}]}, "mark": {"type": "rule", "color": "black", "strokeWidth": 1.2}, "encoding": {"y": {"datum": 0, "type": "quantitative", "scale": {"domain": [-50, 50], "nice": false, "zero": false}, "axis": null}}},
    {"data": {"name": "pg"}, "mark": {"type": "line", "color": "black"}, "encoding": {"x": {"field": "E", "type": "quantitative", "scale": {"domain": [-90, 90], "nice": false, "zero": false}, "axis": {"orient": "bottom", "title": "Electric field (kV/cm)", "values": [-80, -60, -40, -20, 0, 20, 40, 60, 80], "labelExpr": "datum.value % 40 == 0 ? '' + datum.value : ''", "grid": true, "gridOpacity": {"condition": {"test": "datum.value % 40 != 0 || datum.value == 0", "value": 0}, "value": 1}}}, "y": {"field": "P", "type": "quantitative", "scale": {"domain": [-50, 50], "nice": false, "zero": false}, "axis": {"orient": "left", "title": "Polarization (uC/cm²)", "values": [-40, -30, -20, -10, 0, 10, 20, 30, 40], "labelExpr": "datum.value % 20 == 0 ? '' + datum.value : ''", "grid": true, "gridOpacity": {"condition": {"test": "datum.value % 20 != 0 || datum.value == 0", "value": 0}, "value": 1}}}, "order": {"value": null}}},
    {"data": {"name": "sg"}, "mark": {"type": "line", "color": "#ee1c25"}, "encoding": {"x": {"field": "E", "type": "quantitative", "scale": {"domain": [-90, 90], "nice": false, "zero": false}, "axis": null}, "y": {"field": "S", "type": "quantitative", "scale": {"domain": [-0.25, 0.25], "nice": false, "zero": false}, "axis": {"orient": "right", "title": "Electro-strain (%)", "values": [-0.2, -0.15, -0.1, -0.05, 0, 0.05, 0.1, 0.15, 0.2], "labelExpr": "abs(round(datum.value*100)) % 10 == 0 ? (datum.value < -0.001 ? '-' : '') + format(abs(datum.value), '.1f') : ''"}}, "order": {"value": null}}},
    {"data": {"values": [{}]}, "mark": {"type": "rect", "color": "black", "xOffset": 6, "x2Offset": 6, "yOffset": 6, "y2Offset": 6}, "encoding": {"x": {"datum": 28, "type": "quantitative", "scale": {"domain": [-90, 90], "nice": false, "zero": false}, "axis": null}, "x2": {"datum": 82.5}, "y": {"datum": -24, "type": "quantitative", "scale": {"domain": [-50, 50], "nice": false, "zero": false}, "axis": null}, "y2": {"datum": -41.8}}},
    {"data": {"values": [{}]}, "mark": {"type": "rect", "fill": "white", "stroke": "#8a8a8a", "strokeWidth": 1}, "encoding": {"x": {"datum": 28, "type": "quantitative", "scale": {"domain": [-90, 90], "nice": false, "zero": false}, "axis": null}, "x2": {"datum": 82.5}, "y": {"datum": -24, "type": "quantitative", "scale": {"domain": [-50, 50], "nice": false, "zero": false}, "axis": null}, "y2": {"datum": -41.8}}},
    {"data": {"values": [{"T": "25 °C"}]}, "mark": {"type": "text", "font": "Liberation Serif", "fontWeight": "bold", "fontSize": 24, "color": "black", "align": "center", "baseline": "middle", "dy": 1}, "encoding": {"text": {"field": "T"}, "x": {"datum": 55.25, "type": "quantitative", "scale": {"domain": [-90, 90], "nice": false, "zero": false}, "axis": null}, "y": {"datum": -32.9, "type": "quantitative", "scale": {"domain": [-50, 50], "nice": false, "zero": false}, "axis": null}}}
   ],
   "resolve": {"scale": {"y": "independent"}, "axis": {"x": "independent", "y": "independent"}}
  },
  {"width": 196, "height": 159, "title": {"text": "(h)", "dx": -50, "offset": -29},
   "layer": [
    {"data": {"values": [{}]}, "mark": {"type": "rect", "filled": false, "color": "black", "strokeWidth": 1}, "encoding": {"x": {"datum": -138.2, "type": "quantitative", "scale": {"domain": [-90, 90], "nice": false, "zero": false}, "axis": null}, "x2": {"datum": 133.6}, "y": {"datum": 61.9, "type": "quantitative", "scale": {"domain": [-50, 50], "nice": false, "zero": false}, "axis": null}, "y2": {"datum": -85.2}}},
    {"data": {"values": [{}]}, "mark": {"type": "rule", "color": "black", "strokeWidth": 1.2}, "encoding": {"x": {"datum": 0, "type": "quantitative", "scale": {"domain": [-90, 90], "nice": false, "zero": false}, "axis": null}}},
    {"data": {"values": [{}]}, "mark": {"type": "rule", "color": "black", "strokeWidth": 1.2}, "encoding": {"y": {"datum": 0, "type": "quantitative", "scale": {"domain": [-50, 50], "nice": false, "zero": false}, "axis": null}}},
    {"data": {"name": "ph"}, "mark": {"type": "line", "color": "black"}, "encoding": {"x": {"field": "E", "type": "quantitative", "scale": {"domain": [-90, 90], "nice": false, "zero": false}, "axis": {"orient": "bottom", "title": "Electric field (kV/cm)", "values": [-80, -60, -40, -20, 0, 20, 40, 60, 80], "labelExpr": "datum.value % 40 == 0 ? '' + datum.value : ''", "grid": true, "gridOpacity": {"condition": {"test": "datum.value % 40 != 0 || datum.value == 0", "value": 0}, "value": 1}}}, "y": {"field": "P", "type": "quantitative", "scale": {"domain": [-50, 50], "nice": false, "zero": false}, "axis": {"orient": "left", "title": "Polarization (uC/cm²)", "values": [-40, -30, -20, -10, 0, 10, 20, 30, 40], "labelExpr": "datum.value % 20 == 0 ? '' + datum.value : ''", "grid": true, "gridOpacity": {"condition": {"test": "datum.value % 20 != 0 || datum.value == 0", "value": 0}, "value": 1}}}, "order": {"value": null}}},
    {"data": {"name": "sh"}, "mark": {"type": "line", "color": "#ee1c25"}, "encoding": {"x": {"field": "E", "type": "quantitative", "scale": {"domain": [-90, 90], "nice": false, "zero": false}, "axis": null}, "y": {"field": "S", "type": "quantitative", "scale": {"domain": [-0.25, 0.25], "nice": false, "zero": false}, "axis": {"orient": "right", "title": "Electro-strain (%)", "values": [-0.2, -0.15, -0.1, -0.05, 0, 0.05, 0.1, 0.15, 0.2], "labelExpr": "abs(round(datum.value*100)) % 10 == 0 ? (datum.value < -0.001 ? '-' : '') + format(abs(datum.value), '.1f') : ''"}}, "order": {"value": null}}},
    {"data": {"values": [{}]}, "mark": {"type": "rect", "color": "black", "xOffset": 6, "x2Offset": 6, "yOffset": 6, "y2Offset": 6}, "encoding": {"x": {"datum": 19, "type": "quantitative", "scale": {"domain": [-90, 90], "nice": false, "zero": false}, "axis": null}, "x2": {"datum": 85.7}, "y": {"datum": -24, "type": "quantitative", "scale": {"domain": [-50, 50], "nice": false, "zero": false}, "axis": null}, "y2": {"datum": -42.4}}},
    {"data": {"values": [{}]}, "mark": {"type": "rect", "fill": "white", "stroke": "#8a8a8a", "strokeWidth": 1}, "encoding": {"x": {"datum": 19, "type": "quantitative", "scale": {"domain": [-90, 90], "nice": false, "zero": false}, "axis": null}, "x2": {"datum": 85.7}, "y": {"datum": -24, "type": "quantitative", "scale": {"domain": [-50, 50], "nice": false, "zero": false}, "axis": null}, "y2": {"datum": -42.4}}},
    {"data": {"values": [{"T": "100 °C"}]}, "mark": {"type": "text", "font": "Liberation Serif", "fontWeight": "bold", "fontSize": 24, "color": "black", "align": "center", "baseline": "middle", "dy": 1}, "encoding": {"text": {"field": "T"}, "x": {"datum": 52.35, "type": "quantitative", "scale": {"domain": [-90, 90], "nice": false, "zero": false}, "axis": null}, "y": {"datum": -33.2, "type": "quantitative", "scale": {"domain": [-50, 50], "nice": false, "zero": false}, "axis": null}}}
   ],
   "resolve": {"scale": {"y": "independent"}, "axis": {"x": "independent", "y": "independent"}}
  },
  {"width": 196, "height": 159, "title": {"text": "(i)", "dx": -49, "offset": -29},
   "layer": [
    {"data": {"values": [{}]}, "mark": {"type": "rect", "filled": false, "color": "black", "strokeWidth": 1}, "encoding": {"x": {"datum": -139.1, "type": "quantitative", "scale": {"domain": [-90, 90], "nice": false, "zero": false}, "axis": null}, "x2": {"datum": 140}, "y": {"datum": 61.9, "type": "quantitative", "scale": {"domain": [-50, 50], "nice": false, "zero": false}, "axis": null}, "y2": {"datum": -85.2}}},
    {"data": {"values": [{}]}, "mark": {"type": "rule", "color": "black", "strokeWidth": 1.2}, "encoding": {"x": {"datum": 0, "type": "quantitative", "scale": {"domain": [-90, 90], "nice": false, "zero": false}, "axis": null}}},
    {"data": {"values": [{}]}, "mark": {"type": "rule", "color": "black", "strokeWidth": 1.2}, "encoding": {"y": {"datum": 0, "type": "quantitative", "scale": {"domain": [-50, 50], "nice": false, "zero": false}, "axis": null}}},
    {"data": {"name": "pi"}, "mark": {"type": "line", "color": "black"}, "encoding": {"x": {"field": "E", "type": "quantitative", "scale": {"domain": [-90, 90], "nice": false, "zero": false}, "axis": {"orient": "bottom", "title": "Electric field (kV/cm)", "values": [-80, -60, -40, -20, 0, 20, 40, 60, 80], "labelExpr": "datum.value % 40 == 0 ? '' + datum.value : ''", "grid": true, "gridOpacity": {"condition": {"test": "datum.value % 40 != 0 || datum.value == 0", "value": 0}, "value": 1}}}, "y": {"field": "P", "type": "quantitative", "scale": {"domain": [-50, 50], "nice": false, "zero": false}, "axis": {"orient": "left", "title": "Polarization (uC/cm²)", "values": [-40, -30, -20, -10, 0, 10, 20, 30, 40], "labelExpr": "datum.value % 20 == 0 ? '' + datum.value : ''", "grid": true, "gridOpacity": {"condition": {"test": "datum.value % 20 != 0 || datum.value == 0", "value": 0}, "value": 1}}}, "order": {"value": null}}},
    {"data": {"name": "si"}, "mark": {"type": "line", "color": "#ee1c25"}, "encoding": {"x": {"field": "E", "type": "quantitative", "scale": {"domain": [-90, 90], "nice": false, "zero": false}, "axis": null}, "y": {"field": "S", "type": "quantitative", "scale": {"domain": [-0.455, 0.455], "nice": false, "zero": false}, "axis": {"orient": "right", "title": "Electro-strain (%)", "values": [-0.4, -0.3, -0.2, -0.1, 0, 0.1, 0.2, 0.3, 0.4], "labelExpr": "abs(round(datum.value*10)) % 2 == 0 ? (datum.value < -0.001 ? '-' : '') + format(abs(datum.value), '.1f') : ''"}}, "order": {"value": null}}},
    {"data": {"values": [{}]}, "mark": {"type": "rect", "color": "black", "xOffset": 6, "x2Offset": 6, "yOffset": 6, "y2Offset": 6}, "encoding": {"x": {"datum": 17.8, "type": "quantitative", "scale": {"domain": [-90, 90], "nice": false, "zero": false}, "axis": null}, "x2": {"datum": 85.1}, "y": {"datum": -24, "type": "quantitative", "scale": {"domain": [-50, 50], "nice": false, "zero": false}, "axis": null}, "y2": {"datum": -42.4}}},
    {"data": {"values": [{}]}, "mark": {"type": "rect", "fill": "white", "stroke": "#8a8a8a", "strokeWidth": 1}, "encoding": {"x": {"datum": 17.8, "type": "quantitative", "scale": {"domain": [-90, 90], "nice": false, "zero": false}, "axis": null}, "x2": {"datum": 85.1}, "y": {"datum": -24, "type": "quantitative", "scale": {"domain": [-50, 50], "nice": false, "zero": false}, "axis": null}, "y2": {"datum": -42.4}}},
    {"data": {"values": [{"T": "150 °C"}]}, "mark": {"type": "text", "font": "Liberation Serif", "fontWeight": "bold", "fontSize": 24, "color": "black", "align": "center", "baseline": "middle", "dy": 1}, "encoding": {"text": {"field": "T"}, "x": {"datum": 51.45, "type": "quantitative", "scale": {"domain": [-90, 90], "nice": false, "zero": false}, "axis": null}, "y": {"datum": -33.2, "type": "quantitative", "scale": {"domain": [-50, 50], "nice": false, "zero": false}, "axis": null}}}
   ],
   "resolve": {"scale": {"y": "independent"}, "axis": {"x": "independent", "y": "independent"}}
  }
 ],
 "columns": 3,
 "align": "each",
 "spacing": {"row": 0, "column": 0},
 "config": {
  "font": "Liberation Serif",
  "view": {"stroke": "black", "strokeWidth": 1.5},
  "axis": {"labelFont": "Liberation Serif", "labelFontWeight": "bold", "labelFontSize": 15, "titleFont": "Liberation Serif", "titleFontWeight": "bold", "titleFontSize": 17, "tickSize": 4, "tickWidth": 1.2, "domainWidth": 1.5, "labelPadding": 1, "titlePadding": 2, "gridColor": "#9a9a9a", "gridDash": [2, 2], "gridWidth": 1, "domainColor": "black", "tickColor": "black", "labelColor": "black", "titleColor": "black", "labelFlush": false, "labelOverlap": false},
  "axisRight": {"domainColor": "#ee1c25", "tickColor": "#ee1c25", "labelColor": "#ee1c25", "titleColor": "#ee1c25", "titleAngle": 270, "titleBaseline": "top"},
  "title": {"font": "Liberation Serif", "fontWeight": "bold", "fontSize": 21, "color": "black", "orient": "bottom", "anchor": "start", "frame": "group", "offset": -28},
  "line": {"strokeWidth": 1.5}
 }
}
